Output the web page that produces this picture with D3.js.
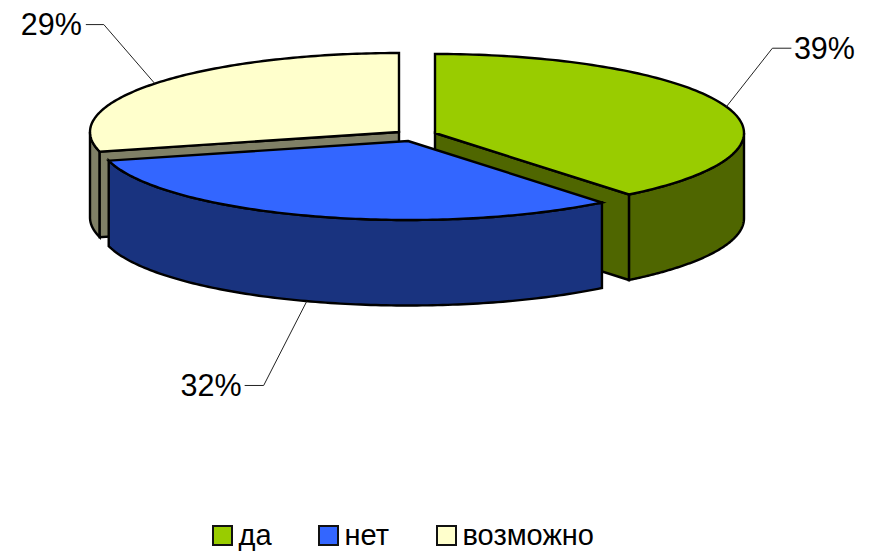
<!DOCTYPE html>
<html><head><meta charset="utf-8">
<script src="https://cdn.jsdelivr.net/npm/d3@7"></script>
<style>html,body{margin:0;padding:0;background:#fff}svg{display:block}text{font-family:"Liberation Sans",Arial,sans-serif;fill:#000}</style>
</head><body><svg id="c" width="876" height="553"></svg>
<script>
const categories = ["да", "нет", "возможно"];
const values = [39.2, 31.8, 29.0];
const topColors = ["#99CC00", "#3366FF", "#FFFFCC"];
const sideColors = ["#4F6600", "#19337F", "#808066"];

// Layout (not data)
const centers = [[435, 133], [408, 141], [399, 132]];
const RX = 309, RY = 79, DEPTH = 85.5;
const elbows = [[0, 46, -58.5, 19, 2.5], [-4, -43, 84, -19, -3], [0, -51, -59, -18, -4]];
const legendX = [213, 319, 437];

const svg = d3.select("#c");
const pie = d3.pie().sort(null).value(d => d)(values);
const sx = d3.scaleLinear().domain([-1, 1]).range([-RX, RX]);
const sy = d3.scaleLinear().domain([-1, 1]).range([-RY, RY]);
const rim = (i, a, drop = 0) => [centers[i][0] + sx(Math.sin(a)), centers[i][1] - sy(Math.cos(a)) + drop];
const samples = (a0, a1) => d3.range(0, 121).map(k => a0 + (a1 - a0) * k / 120);
const line = d3.line();
const stroke = g => g.attr("stroke", "#000").attr("stroke-width", 2.4).attr("stroke-linejoin", "miter");

function topFace(i) {
  const p = pie[i];
  return line([centers[i], ...samples(p.startAngle, p.endAngle).map(a => rim(i, a))]) + "Z";
}
function outerWall(i, a0, a1) {
  const s = samples(a0, a1);
  return line([...s.map(a => rim(i, a)), ...s.slice().reverse().map(a => rim(i, a, DEPTH))]) + "Z";
}
function cutWall(i, a) {
  const c = centers[i];
  return line([c, rim(i, a), rim(i, a, DEPTH), [c[0], c[1] + DEPTH]]) + "Z";
}
const path = (d, fill) => svg.append("path").attr("d", d).attr("fill", fill).call(stroke);

// Slice 3 (возможно)
{ const i = 2, p = pie[i];
  path(outerWall(i, p.startAngle, 1.5 * Math.PI), sideColors[i]);
  path(cutWall(i, p.startAngle), sideColors[i]);
  path(topFace(i), topColors[i]); }
// Slice 1 (да)
{ const i = 0, p = pie[i];
  path(outerWall(i, Math.PI / 2, p.endAngle), sideColors[i]);
  path(cutWall(i, p.endAngle), sideColors[i]);
  path(topFace(i), topColors[i]); }
// Slice 2 (нет)
{ const i = 1, p = pie[i];
  path(outerWall(i, p.startAngle, p.endAngle), sideColors[i]);
  path(topFace(i), topColors[i]); }

// Leaders and value labels
pie.forEach((p, i) => {
  const mid = (p.startAngle + p.endAngle) / 2;
  const front = Math.cos(mid) < 0;
  const r = rim(i, mid, front ? DEPTH : 0);
  const [ax, dx, dy, h, gap] = elbows[i];
  const a = [r[0] + ax, r[1]];
  const b = [a[0] + dx, a[1] + dy], e = [b[0] + h, b[1]];
  svg.append("path").attr("d", line([a, b, e])).attr("fill", "none").attr("stroke", "#222").attr("stroke-width", 1);
  svg.append("text").attr("x", e[0] + gap).attr("y", e[1] + 10.5)
    .attr("text-anchor", h > 0 ? "start" : "end").attr("font-size", 30.5).text(Math.round(values[i]) + "%");
});

// Legend
categories.forEach((c, i) => {
  svg.append("rect").attr("x", legendX[i]).attr("y", 526).attr("width", 19).attr("height", 19)
    .attr("fill", topColors[i]).attr("stroke", "#111").attr("stroke-width", 2);
  svg.append("text").attr("x", legendX[i] + 25.5).attr("y", 545).attr("font-size", 29).text(c);
});
</script></body></html>
